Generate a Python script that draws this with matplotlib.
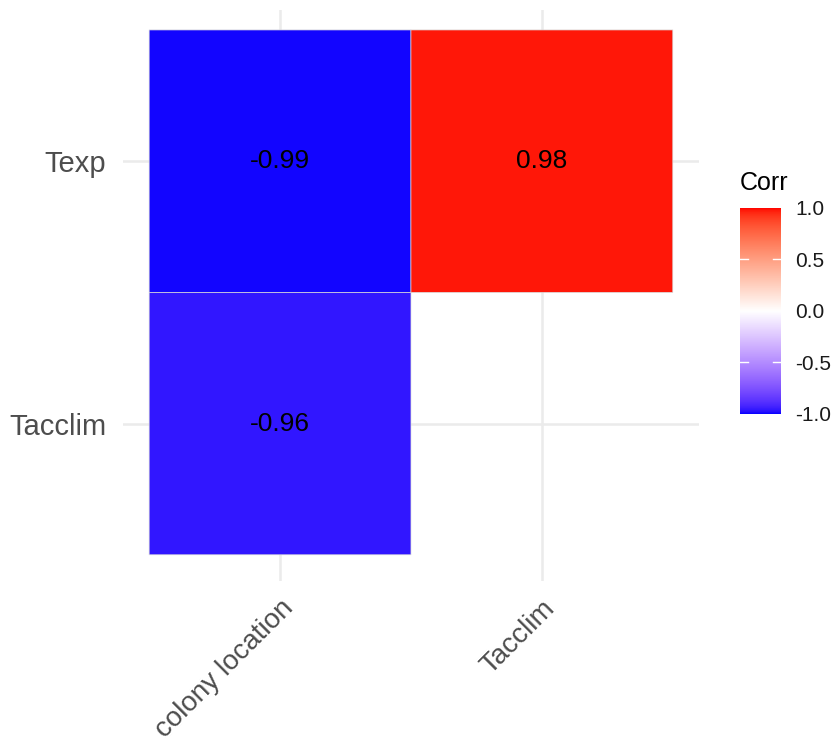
import numpy as np
import matplotlib.pyplot as plt
from matplotlib.colors import ListedColormap

plt.rcParams['font.family'] = ['Liberation Sans', 'DejaVu Sans']

# correlation table (lower triangle, NA where no pair)
x_vars = ['colony location', 'Tacclim']
y_vars = ['Tacclim', 'Texp']
corr = np.array([
    [-0.96, np.nan],   # Tacclim
    [-0.99, 0.98],     # Texp
])
cbar_ticks = [-1.0, -0.5, 0.0, 0.5, 1.0]


# --- blue/white/red ramp interpolated in CIELAB ---
def srgb_to_lab(rgb):
    rgb = np.asarray(rgb, float)
    lin = np.where(rgb <= 0.04045, rgb / 12.92, ((rgb + 0.055) / 1.055) ** 2.4)
    M = np.array([[0.4124, 0.3576, 0.1805],
                  [0.2126, 0.7152, 0.0722],
                  [0.0193, 0.1192, 0.9505]])
    xyz = lin @ M.T / np.array([0.95047, 1.0, 1.08883])
    f = np.where(xyz > 0.008856, np.cbrt(xyz), 7.787 * xyz + 16 / 116)
    L = 116 * f[..., 1] - 16
    a = 500 * (f[..., 0] - f[..., 1])
    b = 200 * (f[..., 1] - f[..., 2])
    return np.stack([L, a, b], -1)


def lab_to_srgb(lab):
    lab = np.asarray(lab, float)
    fy = (lab[..., 0] + 16) / 116
    fx = fy + lab[..., 1] / 500
    fz = fy - lab[..., 2] / 200
    f = np.stack([fx, fy, fz], -1)
    xyz = np.where(f ** 3 > 0.008856, f ** 3, (f - 16 / 116) / 7.787)
    xyz = xyz * np.array([0.95047, 1.0, 1.08883])
    Minv = np.array([[3.2406, -1.5372, -0.4986],
                     [-0.9689, 1.8758, 0.0415],
                     [0.0557, -0.2040, 1.0570]])
    lin = np.clip(xyz @ Minv.T, 0, 1)
    rgb = np.where(lin <= 0.0031308, 12.92 * lin, 1.055 * lin ** (1 / 2.4) - 0.055)
    return np.clip(rgb, 0, 1)


low, mid, high = srgb_to_lab([[0, 0, 1], [1, 1, 1], [1, 0, 0]])
t = np.linspace(-1, 1, 512)[:, None]
lab = np.where(t < 0, mid + (low - mid) * (-t), mid + (high - mid) * t)
cmap = ListedColormap(lab_to_srgb(lab))

# --- figure ---
fig = plt.figure(figsize=(8.32, 7.47), dpi=100)
ax = fig.add_axes([0.1478, 0.2222, 0.6923, 0.7644])

xs = np.arange(1, len(x_vars) + 1)
ys = np.arange(1, len(y_vars) + 1)
for v in xs:
    ax.axvline(v, color='#EBEBEB', lw=1.8, zorder=0)
for v in ys:
    ax.axhline(v, color='#EBEBEB', lw=1.8, zorder=0)

# pcolor leaves masked (NA) cells out entirely
mesh = ax.pcolor(np.arange(0.5, len(x_vars) + 1), np.arange(0.5, len(y_vars) + 1),
                 np.ma.masked_invalid(corr), cmap=cmap, vmin=-1, vmax=1,
                 edgecolors='#D9D9D9', linewidth=0.5, zorder=1)

for i, yv in enumerate(ys):
    for j, xv in enumerate(xs):
        if not np.isnan(corr[i, j]):
            ax.text(xv, yv, f'{corr[i, j]:.2f}', ha='center', va='center',
                    fontsize=19, color='black', zorder=3)

ax.set_xlim(0.4, 2.6)
ax.set_ylim(0.4, 2.576)
ax.set_xticks(xs)
ax.set_xticklabels(x_vars, rotation=45, ha='right', va='top',
                   rotation_mode='anchor', fontsize=20, color='#4D4D4D')
ax.set_yticks(ys)
ax.set_yticklabels(y_vars, fontsize=21, color='#4D4D4D')
ax.tick_params(axis='y', length=0, pad=12)
ax.tick_params(axis='x', length=0, pad=10)
for s in ax.spines.values():
    s.set_visible(False)

# colour bar legend
cax = fig.add_axes([0.8894, 0.4458, 0.0493, 0.2758])
cb = fig.colorbar(mesh, cax=cax, ticks=cbar_ticks)
cb.outline.set_visible(False)
cax.tick_params(length=0, labelsize=15, colors='#1A1A1A', pad=10)
cb.ax.set_yticklabels([f'{v:.1f}' for v in cbar_ticks])
for v in [-0.5, 0.5]:
    cax.plot([0, 0.2], [v, v], color='white', lw=1, transform=cax.get_yaxis_transform())
    cax.plot([0.8, 1], [v, v], color='white', lw=1, transform=cax.get_yaxis_transform())
fig.text(0.8894, 0.739, 'Corr', fontsize=18, color='black', ha='left', va='bottom')

fig.savefig('out.png', dpi=100)
